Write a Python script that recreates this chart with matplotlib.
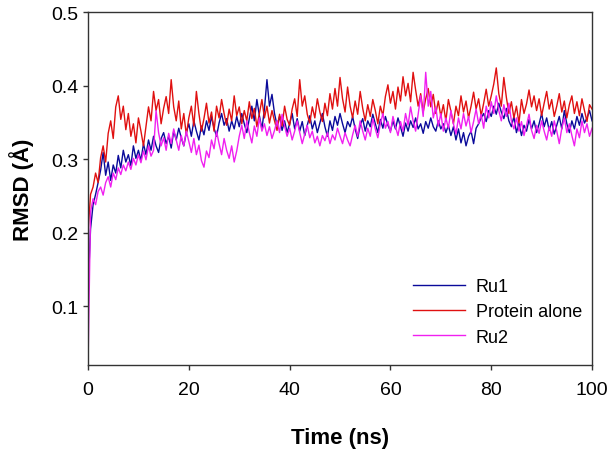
import matplotlib
matplotlib.use('Agg')
import matplotlib.pyplot as plt
import numpy as np

plt.rcParams['font.family'] = ['Liberation Sans', 'DejaVu Sans']

# RMSD traces, one value every 0.5 ns
time_ns = np.arange(0, 100.5, 0.5)

ru1 = [
    0.120, 0.205, 0.238, 0.252, 0.268, 0.285, 0.309, 0.278, 0.296, 0.271,
    0.292, 0.281, 0.305, 0.288, 0.312, 0.296, 0.306, 0.291, 0.318, 0.301,
    0.312, 0.298, 0.321, 0.306, 0.326, 0.312, 0.331, 0.318, 0.309, 0.328,
    0.336, 0.321, 0.331, 0.315, 0.338, 0.326, 0.342, 0.329, 0.318, 0.336,
    0.348, 0.331, 0.352, 0.338, 0.326, 0.345, 0.333, 0.352, 0.339, 0.358,
    0.342, 0.331, 0.349, 0.362, 0.346, 0.355, 0.338, 0.352, 0.341, 0.358,
    0.344, 0.362, 0.348, 0.336, 0.355, 0.372, 0.352, 0.381, 0.359, 0.341,
    0.368, 0.408, 0.372, 0.388, 0.362, 0.346, 0.358, 0.339, 0.352, 0.336,
    0.348, 0.362, 0.341, 0.355, 0.338, 0.351, 0.332, 0.346, 0.359, 0.341,
    0.352, 0.336, 0.349, 0.362, 0.344, 0.331, 0.352, 0.339, 0.358, 0.346,
    0.362, 0.348, 0.336, 0.351, 0.344, 0.358, 0.341, 0.328, 0.346, 0.355,
    0.338, 0.352, 0.344, 0.361, 0.348, 0.336, 0.354, 0.342, 0.358, 0.346,
    0.338, 0.352, 0.341, 0.356, 0.344, 0.331, 0.349, 0.338, 0.352, 0.343,
    0.356, 0.341, 0.348, 0.335, 0.351, 0.342, 0.356, 0.344, 0.338, 0.352,
    0.341, 0.348, 0.336, 0.346, 0.332, 0.344, 0.326, 0.341, 0.322, 0.336,
    0.318, 0.331, 0.338, 0.321, 0.342, 0.348, 0.356, 0.362, 0.351, 0.366,
    0.358, 0.372, 0.361, 0.376, 0.364, 0.355, 0.369, 0.352, 0.344, 0.358,
    0.336, 0.349, 0.332, 0.346, 0.338, 0.354, 0.341, 0.352, 0.336, 0.348,
    0.362, 0.344, 0.356, 0.339, 0.351, 0.334, 0.346, 0.358, 0.341, 0.366,
    0.348, 0.336, 0.352, 0.341, 0.358, 0.346, 0.362, 0.349, 0.356, 0.366,
    0.352,
]

protein = [
    0.200, 0.252, 0.262, 0.281, 0.268, 0.302, 0.318, 0.296, 0.335, 0.352,
    0.328, 0.371, 0.386, 0.354, 0.372, 0.340, 0.362, 0.331, 0.348, 0.322,
    0.356, 0.338, 0.318, 0.345, 0.371, 0.352, 0.392, 0.366, 0.381, 0.348,
    0.369, 0.385, 0.362, 0.408, 0.371, 0.352, 0.379, 0.341, 0.362, 0.333,
    0.356, 0.372, 0.345, 0.392, 0.362, 0.338, 0.355, 0.376, 0.349, 0.364,
    0.338, 0.372, 0.356, 0.381, 0.362, 0.346, 0.368, 0.352, 0.386, 0.359,
    0.371, 0.348, 0.366, 0.352, 0.378, 0.355, 0.369, 0.344, 0.362, 0.381,
    0.356, 0.372, 0.349, 0.366, 0.352, 0.339, 0.361, 0.345, 0.372, 0.354,
    0.346, 0.368, 0.382, 0.358, 0.408, 0.372, 0.386, 0.361, 0.349, 0.371,
    0.356, 0.382, 0.364, 0.351, 0.376, 0.359, 0.389, 0.368, 0.396, 0.372,
    0.411, 0.382, 0.364, 0.398, 0.372, 0.356, 0.379, 0.361, 0.392, 0.369,
    0.352, 0.374, 0.358, 0.381, 0.366, 0.348, 0.372, 0.359, 0.385, 0.401,
    0.376, 0.392, 0.368, 0.398, 0.379, 0.412, 0.386, 0.403, 0.378, 0.418,
    0.394, 0.372, 0.389, 0.364, 0.382, 0.396, 0.371, 0.388, 0.362, 0.379,
    0.358, 0.374, 0.352, 0.381, 0.365, 0.348, 0.372, 0.359, 0.386, 0.364,
    0.379, 0.356, 0.372, 0.391, 0.368, 0.382, 0.359, 0.376, 0.395, 0.372,
    0.386, 0.402, 0.424, 0.389, 0.372, 0.411, 0.384, 0.362, 0.378, 0.356,
    0.372, 0.349, 0.381, 0.362, 0.375, 0.394, 0.371, 0.386, 0.366, 0.382,
    0.359, 0.376, 0.392, 0.368, 0.381, 0.358, 0.372, 0.389, 0.364, 0.379,
    0.356, 0.374, 0.386, 0.362, 0.378, 0.359, 0.382, 0.366, 0.351, 0.374,
    0.368,
]

ru2 = [
    0.020, 0.228, 0.246, 0.238, 0.256, 0.262, 0.251, 0.268, 0.276, 0.262,
    0.281, 0.272, 0.288, 0.279, 0.292, 0.284, 0.296, 0.286, 0.301, 0.292,
    0.306, 0.295, 0.311, 0.299, 0.318, 0.304, 0.312, 0.366, 0.336, 0.318,
    0.329, 0.312, 0.335, 0.321, 0.341, 0.326, 0.312, 0.332, 0.318, 0.338,
    0.324, 0.309, 0.328, 0.306, 0.319, 0.298, 0.289, 0.311, 0.302, 0.326,
    0.314, 0.338, 0.321, 0.306, 0.328, 0.312, 0.301, 0.318, 0.296, 0.311,
    0.331, 0.346, 0.328, 0.352, 0.336, 0.322, 0.345, 0.331, 0.356, 0.338,
    0.348, 0.332, 0.344, 0.328, 0.339, 0.352, 0.336, 0.361, 0.345, 0.331,
    0.342, 0.326, 0.338, 0.352, 0.336, 0.321, 0.334, 0.346, 0.329, 0.338,
    0.322, 0.331, 0.318, 0.332, 0.325, 0.336, 0.321, 0.333, 0.326, 0.342,
    0.331, 0.321, 0.336, 0.326, 0.318, 0.333, 0.346, 0.331, 0.352, 0.338,
    0.326, 0.342, 0.331, 0.355, 0.341, 0.329, 0.348, 0.362, 0.342, 0.351,
    0.336, 0.358, 0.344, 0.332, 0.351, 0.338, 0.362, 0.346, 0.371, 0.352,
    0.338, 0.361, 0.386, 0.358, 0.418, 0.372, 0.392, 0.356, 0.371, 0.345,
    0.362, 0.338, 0.356, 0.342, 0.366, 0.348, 0.334, 0.356, 0.341, 0.362,
    0.345, 0.358, 0.336, 0.351, 0.368, 0.348, 0.361, 0.342, 0.372, 0.356,
    0.378, 0.362, 0.386, 0.366, 0.352, 0.374, 0.358, 0.376, 0.352, 0.341,
    0.356, 0.338, 0.351, 0.332, 0.346, 0.361, 0.339, 0.328, 0.346, 0.335,
    0.352, 0.338, 0.326, 0.344, 0.331, 0.352, 0.338, 0.321, 0.342, 0.356,
    0.336, 0.348, 0.332, 0.318, 0.341, 0.329, 0.352, 0.336, 0.348, 0.331,
    0.342,
]

x_ticks = [0, 20, 40, 60, 80, 100]
y_ticks = [0.1, 0.2, 0.3, 0.4, 0.5]

fig = plt.figure(figsize=(6.13, 4.52), dpi=100)
ax = fig.add_axes([0.1436, 0.1903, 0.8222, 0.7809])

ax.plot(time_ns, ru1, color='#0a0a9a', lw=1.0, label='Ru1')
ax.plot(time_ns, protein, color='#e01010', lw=1.0, label='Protein alone')
ax.plot(time_ns, ru2, color='#f020f0', lw=1.0, label='Ru2')

ax.set_xlim(0, 100)
ax.set_ylim(0.02, 0.5)
ax.set_xticks(x_ticks)
ax.set_yticks(y_ticks)
ax.set_yticklabels(['0.1', '0.2', '0.3', '0.4', '0.5'])
ax.tick_params(direction='out', length=3.6, width=1, labelsize=14, color='#333333')
ax.tick_params(axis='y', pad=3)
ax.tick_params(axis='x', pad=8)
for s in ax.spines.values():
    s.set_color('#333333')
    s.set_linewidth(1.0)

ax.set_xlabel('Time (ns)', fontsize=16, fontweight='bold', labelpad=21)
ax.set_ylabel('RMSD (Å)', fontsize=16, fontweight='bold', labelpad=13)

ax.legend(loc='lower right', bbox_to_anchor=(0.98, 0.055), frameon=False,
          fontsize=13, handlelength=2.9, handletextpad=0.6, labelspacing=0.45,
          borderpad=0, borderaxespad=0)

fig.savefig('out.png', dpi=100)
